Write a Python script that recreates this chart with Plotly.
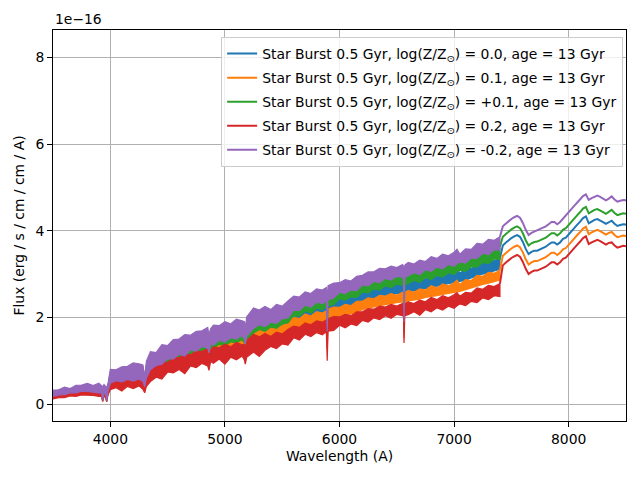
import plotly.graph_objects as go

# ---------------- data (flux in units of 1e-16 erg / s / cm / cm / A) ----------------
# High-resolution part (3500-7400 A): the spectra are dense, so each one is given as
# the upper and lower edge of its band.
BAND_WAVE = [
    3500, 3550, 3600, 3650, 3700, 3750, 3800, 3850, 3900, 3925, 3933, 3945, 3960, 3968, 3980,
    4000, 4050, 4100, 4150, 4200, 4250, 4285, 4300, 4315,
    4350, 4400, 4450, 4500, 4550, 4600, 4650, 4700, 4750, 4800, 4850, 4861, 4875, 4900, 4950, 5000, 5050, 5100, 5150, 5170, 5178, 5190,
    5250, 5300, 5350, 5400, 5450, 5500, 5550, 5600, 5650, 5700, 5750, 5800, 5850, 5885, 5893, 5900,
    5950, 6000, 6050, 6100, 6150, 6200, 6250, 6300, 6350, 6400, 6450, 6500, 6550, 6558, 6563, 6570,
    6600, 6650, 6700, 6750, 6800, 6850, 6900, 6950, 7000, 7025, 7050, 7100, 7150, 7200, 7250, 7300, 7350, 7400,
]

# Low-resolution part (7400-8500 A): smooth lines
SMOOTH_WAVE = [7400, 7425, 7450, 7475, 7500, 7525, 7550, 7575, 7600, 7625, 7650, 7675, 7700, 7725, 7750,
               7775, 7800, 7825, 7850, 7875, 7900, 7925, 7950, 7975, 8000, 8025, 8050, 8075, 8100, 8125,
               8150, 8175, 8200, 8225, 8250, 8275, 8300, 8325, 8350, 8375, 8400, 8425, 8450, 8475, 8500]

# log(Z/Zsun) = 0.0  (blue)
HI_Z00 = [
    .27, .30, .33, .32, .37, .39, .41, .38, .41, .37, .35, .39, .36, .33, .41,
    .68, .71, .72, .77, .81, .84, .78, .54, .84,
    1.03, 1.06, 1.17, 1.20, 1.27, 1.33, 1.36, 1.42, 1.44, 1.50, 1.51, 1.39, 1.54, 1.56, 1.61, 1.63, 1.64, 1.68, 1.70, 1.65, 1.52, 1.72,
    1.91, 1.91, 1.93, 1.92, 1.97, 1.99, 2.04, 2.14, 2.18, 2.23, 2.24, 2.29, 2.31, 2.34, 2.09, 2.36,
    2.40, 2.46, 2.47, 2.50, 2.54, 2.61, 2.63, 2.68, 2.70, 2.74, 2.74, 2.77, 2.78, 2.77, 2.44, 2.79,
    2.83, 2.84, 2.86, 2.89, 2.93, 2.95, 2.98, 3.00, 3.04, 3.11, 3.03, 3.10, 3.13, 3.21, 3.24, 3.29, 3.31, 3.36,
]
LO_Z00 = [
    .17, .17, .20, .22, .23, .25, .26, .24, .23, .22, .07, .23, .19, .06, .26,
    .44, .45, .47, .48, .49, .50, .45, .35, .54,
    .71, .75, .83, .89, .94, .97, 1.00, 1.06, 1.10, 1.13, 1.16, 1.03, 1.18, 1.22, 1.25, 1.28, 1.31, 1.34, 1.36, 1.31, 1.20, 1.39,
    1.55, 1.57, 1.58, 1.62, 1.65, 1.69, 1.76, 1.86, 1.91, 1.96, 1.98, 2.02, 2.05, 2.07, 1.40, 2.09,
    2.16, 2.22, 2.24, 2.26, 2.31, 2.37, 2.41, 2.44, 2.47, 2.50, 2.52, 2.54, 2.57, 2.52, 1.62, 2.54,
    2.59, 2.61, 2.64, 2.67, 2.70, 2.72, 2.75, 2.78, 2.80, 2.82, 2.83, 2.86, 2.91, 2.96, 3.00, 3.04, 3.07, 3.11,
]
SMOOTH_Z00 = [3.36, 3.66, 3.72, 3.78, 3.83, 3.87, 3.90, 3.86, 3.74, 3.58, 3.46, 3.51, 3.54, 3.54, 3.57,
              3.61, 3.63, 3.68, 3.73, 3.73, 3.68, 3.73, 3.81, 3.84, 3.92, 3.99, 4.07, 4.14, 4.21, 4.29,
              4.33, 4.17, 4.21, 4.25, 4.27, 4.24, 4.20, 4.16, 4.20, 4.23, 4.16, 4.11, 4.13, 4.15, 4.14]

# log(Z/Zsun) = 0.1  (orange)
HI_Z01 = [
    .26, .26, .31, .29, .35, .35, .39, .34, .39, .34, .32, .36, .33, .30, .38,
    .64, .63, .69, .69, .76, .74, .72, .50, .80,
    .97, .95, 1.10, 1.07, 1.20, 1.19, 1.28, 1.27, 1.35, 1.35, 1.42, 1.28, 1.39, 1.46, 1.45, 1.53, 1.47, 1.57, 1.53, 1.52, 1.40, 1.61,
    1.78, 1.73, 1.81, 1.74, 1.85, 1.80, 1.91, 2.00, 1.97, 2.08, 2.03, 2.13, 2.10, 2.15, 1.92, 2.19,
    2.24, 2.23, 2.30, 2.27, 2.37, 2.37, 2.45, 2.43, 2.51, 2.49, 2.55, 2.51, 2.58, 2.54, 2.24, 2.57,
    2.62, 2.58, 2.66, 2.63, 2.73, 2.68, 2.77, 2.73, 2.80, 2.86, 2.76, 2.87, 2.85, 2.97, 2.95, 3.04, 3.02, 3.09,
]
LO_Z01 = [
    .15, .16, .18, .20, .22, .23, .24, .22, .22, .20, .06, .21, .18, .06, .24,
    .40, .42, .43, .44, .45, .46, .42, .32, .50,
    .66, .69, .76, .82, .86, .90, .92, .98, 1.01, 1.04, 1.06, .94, 1.09, 1.12, 1.15, 1.18, 1.20, 1.23, 1.25, 1.20, 1.10, 1.28,
    1.42, 1.44, 1.46, 1.49, 1.52, 1.55, 1.62, 1.71, 1.76, 1.80, 1.82, 1.86, 1.89, 1.90, 1.25, 1.92,
    1.98, 2.04, 2.06, 2.08, 2.13, 2.18, 2.22, 2.24, 2.27, 2.30, 2.32, 2.34, 2.36, 2.32, 1.52, 2.34,
    2.38, 2.40, 2.42, 2.46, 2.48, 2.50, 2.53, 2.55, 2.58, 2.59, 2.60, 2.63, 2.67, 2.72, 2.76, 2.79, 2.82, 2.86,
]
SMOOTH_Z01 = [3.09, 3.42, 3.48, 3.54, 3.59, 3.63, 3.66, 3.62, 3.50, 3.34, 3.22, 3.27, 3.30, 3.30, 3.33,
              3.37, 3.39, 3.44, 3.49, 3.49, 3.44, 3.49, 3.57, 3.60, 3.68, 3.75, 3.83, 3.90, 3.97, 4.05,
              4.09, 3.92, 3.96, 4.00, 4.02, 3.99, 3.95, 3.91, 3.95, 3.97, 3.90, 3.85, 3.87, 3.89, 3.88]

# log(Z/Zsun) = +0.1  (green)
HI_ZP01 = [
    .29, .32, .36, .35, .39, .42, .44, .41, .44, .40, .38, .42, .39, .36, .44,
    .73, .77, .78, .84, .87, .90, .85, .58, .91,
    1.11, 1.15, 1.26, 1.30, 1.37, 1.44, 1.47, 1.53, 1.55, 1.62, 1.64, 1.50, 1.66, 1.68, 1.74, 1.76, 1.77, 1.81, 1.83, 1.79, 1.65, 1.86,
    2.06, 2.07, 2.09, 2.08, 2.13, 2.15, 2.21, 2.31, 2.35, 2.41, 2.43, 2.47, 2.50, 2.53, 2.26, 2.55,
    2.59, 2.66, 2.67, 2.70, 2.74, 2.82, 2.84, 2.90, 2.91, 2.96, 2.96, 2.99, 3.01, 2.99, 2.63, 3.02,
    3.06, 3.06, 3.09, 3.12, 3.17, 3.19, 3.22, 3.24, 3.28, 3.36, 3.27, 3.35, 3.38, 3.47, 3.50, 3.55, 3.58, 3.63,
]
LO_ZP01 = [
    .17, .20, .21, .25, .24, .28, .27, .26, .24, .24, .08, .24, .21, .07, .28,
    .45, .51, .48, .54, .50, .55, .49, .38, .56,
    .74, .84, .86, .99, .98, 1.08, 1.04, 1.18, 1.14, 1.25, 1.21, 1.11, 1.31, 1.28, 1.38, 1.34, 1.44, 1.41, 1.49, 1.41, 1.30, 1.47,
    1.64, 1.72, 1.68, 1.78, 1.75, 1.85, 1.87, 2.04, 2.03, 2.15, 2.10, 2.21, 2.18, 2.24, 1.55, 2.26,
    2.30, 2.43, 2.40, 2.47, 2.46, 2.59, 2.56, 2.66, 2.63, 2.73, 2.69, 2.77, 2.74, 2.73, 1.75, 2.74,
    2.77, 2.85, 2.81, 2.92, 2.87, 2.97, 2.93, 3.03, 2.99, 3.05, 3.09, 3.06, 3.17, 3.16, 3.27, 3.24, 3.35, 3.34,
]
SMOOTH_ZP01 = [3.63, 3.86, 3.92, 3.98, 4.03, 4.07, 4.10, 4.06, 3.94, 3.78, 3.66, 3.71, 3.74, 3.75, 3.78,
               3.82, 3.84, 3.89, 3.94, 3.94, 3.89, 3.94, 4.02, 4.06, 4.14, 4.21, 4.29, 4.36, 4.43, 4.51,
               4.55, 4.40, 4.44, 4.48, 4.50, 4.47, 4.43, 4.39, 4.43, 4.48, 4.41, 4.36, 4.38, 4.40, 4.39]

# log(Z/Zsun) = 0.2  (red)
HI_Z02 = [
    .23, .23, .28, .26, .31, .31, .35, .31, .35, .31, .29, .32, .30, .27, .34,
    .58, .56, .63, .62, .69, .66, .65, .45, .72,
    .88, .85, .99, .96, 1.08, 1.07, 1.15, 1.14, 1.22, 1.21, 1.28, 1.15, 1.24, 1.32, 1.30, 1.38, 1.32, 1.42, 1.37, 1.37, 1.26, 1.46,
    1.61, 1.55, 1.63, 1.56, 1.66, 1.62, 1.72, 1.80, 1.77, 1.87, 1.83, 1.92, 1.89, 1.94, 1.73, 1.97,
    2.02, 2.01, 2.07, 2.04, 2.13, 2.13, 2.20, 2.19, 2.26, 2.24, 2.30, 2.26, 2.32, 2.29, 2.02, 2.31,
    2.36, 2.32, 2.40, 2.36, 2.46, 2.41, 2.50, 2.45, 2.52, 2.57, 2.49, 2.58, 2.56, 2.68, 2.65, 2.74, 2.71, 2.78,
]
LO_Z02 = [
    .12, .15, .15, .19, .18, .21, .20, .20, .18, .18, .06, .18, .15, .05, .21,
    .33, .38, .30, .41, .36, .42, .34, .26, .41,
    .52, .62, .58, .74, .72, .80, .70, .88, .84, .94, .88, .78, .98, .94, 1.04, .92, 1.08, 1.02, 1.11, 1.02, .92, 1.08,
    1.20, 1.10, 1.24, 1.33, 1.28, 1.39, 1.36, 1.53, 1.48, 1.61, 1.56, 1.65, 1.60, 1.67, 1.00, 1.68,
    1.70, 1.82, 1.76, 1.85, 1.81, 1.93, 1.89, 1.99, 1.95, 2.04, 1.98, 2.07, 2.04, 2.03, 1.41, 2.04,
    2.06, 2.13, 2.05, 2.18, 2.13, 2.22, 2.17, 2.26, 2.21, 2.27, 2.31, 2.27, 2.37, 2.34, 2.45, 2.41, 2.50, 2.48,
]
SMOOTH_Z02 = [2.78, 3.20, 3.26, 3.32, 3.37, 3.41, 3.44, 3.40, 3.28, 3.12, 3.00, 3.05, 3.08, 3.08, 3.11,
              3.15, 3.17, 3.22, 3.27, 3.27, 3.22, 3.27, 3.35, 3.38, 3.46, 3.53, 3.61, 3.68, 3.75, 3.83,
              3.87, 3.69, 3.73, 3.77, 3.79, 3.76, 3.72, 3.68, 3.72, 3.73, 3.66, 3.61, 3.63, 3.65, 3.64]

# log(Z/Zsun) = -0.2  (purple)
HI_ZM02 = [
    .32, .33, .39, .36, .43, .44, .48, .43, .48, .43, .40, .45, .41, .38, .47,
    .80, .79, .86, .87, .95, .93, .90, .62, .99,
    1.21, 1.19, 1.37, 1.35, 1.49, 1.50, 1.60, 1.59, 1.68, 1.69, 1.77, 1.60, 1.74, 1.82, 1.81, 1.90, 1.85, 1.96, 1.92, 1.90, 1.75, 2.01,
    2.22, 2.17, 2.25, 2.18, 2.30, 2.26, 2.38, 2.49, 2.47, 2.59, 2.55, 2.66, 2.63, 2.69, 2.40, 2.73,
    2.79, 2.80, 2.87, 2.84, 2.95, 2.97, 3.05, 3.05, 3.13, 3.12, 3.18, 3.15, 3.22, 3.18, 2.80, 3.21,
    3.27, 3.23, 3.32, 3.29, 3.40, 3.36, 3.46, 3.42, 3.50, 3.57, 3.46, 3.58, 3.57, 3.71, 3.69, 3.80, 3.78, 3.86,
]
LO_ZM02 = [
    .18, .21, .22, .26, .26, .30, .29, .28, .26, .25, .08, .26, .22, .07, .30,
    .48, .54, .51, .57, .53, .58, .52, .40, .60,
    .79, .89, .92, 1.05, 1.04, 1.15, 1.11, 1.25, 1.22, 1.33, 1.29, 1.18, 1.39, 1.36, 1.47, 1.43, 1.53, 1.50, 1.58, 1.50, 1.38, 1.57,
    1.75, 1.83, 1.79, 1.89, 1.86, 1.97, 1.99, 2.17, 2.16, 2.28, 2.24, 2.35, 2.32, 2.38, 1.68, 2.40,
    2.45, 2.58, 2.55, 2.63, 2.62, 2.75, 2.73, 2.83, 2.80, 2.90, 2.86, 2.95, 2.92, 2.90, 1.90, 2.92,
    2.95, 3.03, 2.99, 3.10, 3.06, 3.16, 3.12, 3.22, 3.18, 3.24, 3.28, 3.25, 3.37, 3.36, 3.48, 3.45, 3.56, 3.55,
]
SMOOTH_ZM02 = [3.86, 4.10, 4.16, 4.22, 4.27, 4.31, 4.34, 4.30, 4.18, 4.02, 3.90, 3.95, 3.98, 4.01, 4.04,
               4.08, 4.10, 4.15, 4.20, 4.20, 4.15, 4.20, 4.28, 4.35, 4.43, 4.50, 4.58, 4.65, 4.72, 4.80,
               4.84, 4.71, 4.75, 4.79, 4.81, 4.78, 4.74, 4.70, 4.74, 4.79, 4.72, 4.67, 4.69, 4.71, 4.70]

SERIES_NAMES = [
    "Star Burst 0.5 Gyr, log(Z/Z<sub>⊙</sub>) = 0.0, age = 13 Gyr",
    "Star Burst 0.5 Gyr, log(Z/Z<sub>⊙</sub>) = 0.1, age = 13 Gyr",
    "Star Burst 0.5 Gyr, log(Z/Z<sub>⊙</sub>) = +0.1, age = 13 Gyr",
    "Star Burst 0.5 Gyr, log(Z/Z<sub>⊙</sub>) = 0.2, age = 13 Gyr",
    "Star Burst 0.5 Gyr, log(Z/Z<sub>⊙</sub>) = -0.2, age = 13 Gyr",
]
SERIES_HI = [HI_Z00, HI_Z01, HI_ZP01, HI_Z02, HI_ZM02]
SERIES_LO = [LO_Z00, LO_Z01, LO_ZP01, LO_Z02, LO_ZM02]
SERIES_SMOOTH = [SMOOTH_Z00, SMOOTH_Z01, SMOOTH_ZP01, SMOOTH_Z02, SMOOTH_ZM02]
COLORS = ["#1f77b4", "#ff7f0e", "#2ca02c", "#d62728", "#9467bd"]

X_TICKS = [4000, 5000, 6000, 7000, 8000]
Y_TICKS = [0, 2, 4, 6, 8]

FONT = "DejaVu Sans"
FS = 13.9

fig = go.Figure()
for i in range(len(SERIES_NAMES)):
    hi, lo = SERIES_HI[i], SERIES_LO[i]
    n = min(len(BAND_WAVE), len(hi), len(lo))
    wave = BAND_WAVE[:n]
    fig.add_trace(go.Scatter(
        x=wave + wave[::-1], y=hi[:n] + lo[:n][::-1],
        mode="lines", fill="toself", fillcolor=COLORS[i],
        line=dict(color=COLORS[i], width=1.2),
        legendgroup=f"g{i}", showlegend=False, hoverinfo="skip",
    ))
    fig.add_trace(go.Scatter(
        x=SMOOTH_WAVE, y=SERIES_SMOOTH[i], mode="lines", name=SERIES_NAMES[i],
        line=dict(color=COLORS[i], width=2), legendgroup=f"g{i}",
    ))

axis_common = dict(
    showline=True, linecolor="black", linewidth=1, mirror=True,
    ticks="outside", ticklen=5, tickwidth=1, tickcolor="black",
    showgrid=True, gridcolor="#b0b0b0", gridwidth=1, zeroline=False,
    tickfont=dict(family=FONT, size=FS, color="black"),
    automargin=False,
)

# The page shows the figure 8 px in from the window's top-left corner,
# so the figure is sized to fill the rest of the 640x480 window.
fig.update_layout(
    width=632, height=472,
    margin=dict(l=45, r=14, t=22, b=59),
    paper_bgcolor="white", plot_bgcolor="white",
    font=dict(family=FONT, size=FS, color="black"),
    showlegend=True,
    legend=dict(
        x=0.995, y=0.982, xanchor="right", yanchor="top",
        bgcolor="rgba(255,255,255,0.8)", bordercolor="#cccccc", borderwidth=1,
        font=dict(family=FONT, size=FS, color="black"),
        itemwidth=30, tracegroupgap=3,
    ),
    xaxis=dict(
        range=[3500, 8500], tickvals=X_TICKS,
        title=dict(text="Wavelength (A)", font=dict(family=FONT, size=FS), standoff=5),
        **axis_common,
    ),
    yaxis=dict(
        range=[-0.39, 8.63], tickvals=Y_TICKS,
        title=dict(text="Flux (erg / s / cm / cm / A)", font=dict(family=FONT, size=FS), standoff=7),
        **axis_common,
    ),
    annotations=[dict(
        text="1e\u221216", xref="paper", yref="paper", x=0, y=1,
        xanchor="left", yanchor="bottom", showarrow=False, yshift=1,
        font=dict(family=FONT, size=FS, color="black"),
    )],
)

fig.write_html("out.html")
